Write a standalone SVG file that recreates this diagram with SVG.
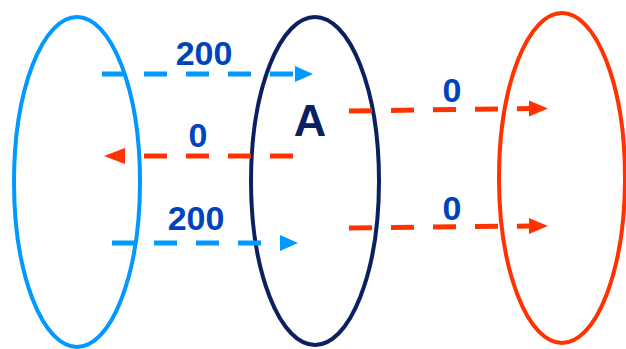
<svg xmlns="http://www.w3.org/2000/svg" width="626" height="349" viewBox="0 0 626 349">
<style>
.ell{fill:none;stroke-width:4}
.blue{stroke:#0099FF}
.navy{stroke:#0A2060}
.red{stroke:#FF3300}
.dash{fill:none;stroke-width:5;stroke-dasharray:23 19}
.hb{fill:#0099FF}
.hr{fill:#FF3300}
.lbl{font-family:"Liberation Sans",Arial,sans-serif;font-weight:bold;font-size:34px;fill:#0044BB;text-anchor:middle}
.big{font-family:"Liberation Sans",Arial,sans-serif;font-weight:bold;font-size:45px;fill:#0A2060;text-anchor:middle}
</style>
<rect width="626" height="349" fill="#FFFFFF"/>
<g id="left-set"><ellipse class="ell blue" cx="77" cy="182" rx="63" ry="165"/></g>
<g id="middle-set"><ellipse class="ell navy" cx="315" cy="181" rx="64" ry="164"/>
<text class="big" x="310" y="136">A</text></g>
<g id="right-set"><ellipse class="ell red" cx="562" cy="178" rx="63" ry="165"/></g>
<g id="connectors">
<path class="dash blue" d="M102 74 L293 74"/>
<polygon class="hb" points="295,66 313,74 295,82"/>
<path class="dash red" d="M293 156 L141 156"/>
<polygon class="hr" points="125,148 104,156 125,164"/>
<path class="dash blue" d="M112 243 L262 243"/>
<polygon class="hb" points="280,235 298,243 280,251"/>
<path class="dash red" d="M349 111 L531 108.5"/>
<polygon class="hr" points="529,100.5 548,108.5 529,116.5"/>
<path class="dash red" d="M349 228 L531 226"/>
<polygon class="hr" points="529,218 548,226 529,234"/>
</g>
<g id="labels">
<text class="lbl" x="204" y="65">200</text>
<text class="lbl" x="198" y="147">0</text>
<text class="lbl" x="196" y="230">200</text>
<text class="lbl" x="452" y="102">0</text>
<text class="lbl" x="452" y="220">0</text>
</g>
</svg>
